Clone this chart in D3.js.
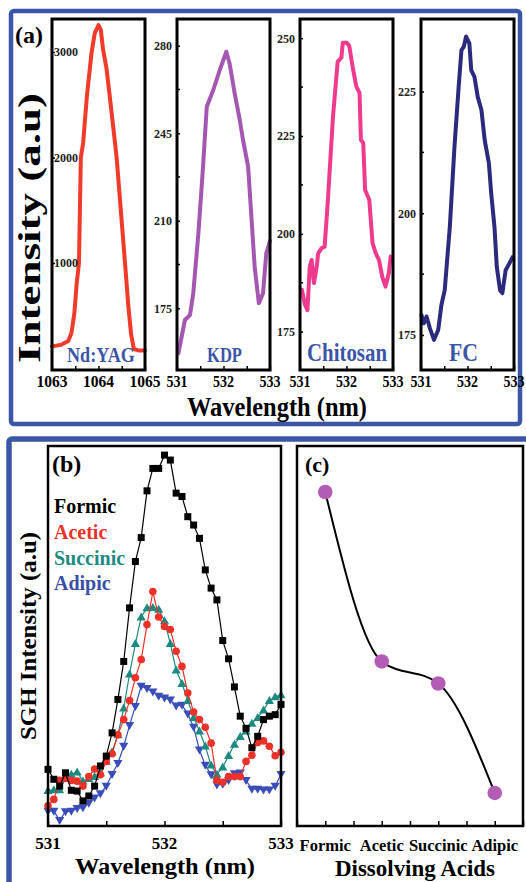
<!DOCTYPE html>
<meta charset="utf-8">
<style>

body {
  margin: 0;
  background: #fff;
}

text {
  font-family: "Liberation Serif", "Times New Roman", serif;
  font-weight: bold;
}

</style>
<body>
<script src="https://d3js.org/d3.v7.min.js" charset="utf-8"></script>
<script>

// ---- (a) spectra of the four samples
var ndyagWl  = [1063.00, 1063.20, 1063.35, 1063.42, 1063.48, 1063.53, 1063.58, 1063.62, 1063.67, 1063.75, 1063.85,
                1063.92, 1064.00, 1064.05, 1064.10, 1064.17, 1064.25, 1064.39, 1064.48, 1064.57, 1064.64, 1064.70,
                1064.76, 1064.86, 1065.00];
var ndyagInt = [210, 225, 260, 340, 520, 800, 1000, 2000, 2140, 2580, 2990,
                3180, 3255, 3210, 3020, 2850, 2550, 2000, 1500, 1000, 600, 330,
                185, 172, 172];

var kdpWl  = [531.03, 531.10, 531.17, 531.28, 531.35, 531.46, 531.56, 531.64, 531.78, 531.92, 532.06,
              532.13, 532.24, 532.35, 532.42, 532.53, 532.60, 532.67, 532.76, 532.85, 532.92, 533.00];
var kdpInt = [157, 163.6, 170.3, 172.3, 181, 205, 231.6, 255.6, 262.3, 270.3, 277.6,
              273, 261, 250.3, 242.3, 231.6, 211.6, 191.6, 177, 181, 197, 202];

var chitWl  = [531.04, 531.11, 531.16, 531.21, 531.25, 531.30, 531.36, 531.39, 531.46, 531.53, 531.60,
               531.71, 531.81, 531.89, 531.92, 532.01, 532.06, 532.13, 532.21, 532.28, 532.31, 532.36,
               532.40, 532.49, 532.56, 532.63, 532.70, 532.77, 532.84, 532.91, 532.95];
var chitInt = [185.7, 181.8, 180.5, 191.6, 193.3, 187.4, 191.6, 195, 196.3, 196.7, 208.7,
               230, 244, 245, 248.8, 248.8, 248, 242.8, 237.7, 236, 224, 223.2,
               211.2, 208.7, 197.6, 195, 193.3, 189, 186.5, 190, 194.2];

var fcWl  = [531.01, 531.06, 531.12, 531.19, 531.28, 531.37, 531.44, 531.51, 531.62, 531.72, 531.81,
             531.87, 531.92, 531.97, 532.04, 532.08, 532.15, 532.22, 532.30, 532.37, 532.46, 532.51,
             532.58, 532.63, 532.70, 532.75, 532.82, 532.90, 532.97];
var fcInt = [179.1, 177.4, 178.8, 176.4, 174, 176, 181.2, 184.2, 197.2, 213.7, 226,
             233.5, 234.2, 236.3, 234.9, 229.4, 228, 223.9, 221.2, 215, 210.3, 204.1,
             197.2, 189, 184.2, 183.6, 188.3, 189.7, 191];

var sampleNames  = ["Nd:YAG", "KDP", "Chitosan", "FC"];
var sampleColors = ["#f03a2a", "#a357b1", "#ee3b8e", "#2b2a7c"];
var sampleYTicks = [[1000, 2000, 3000], [175, 210, 245, 280], [175, 200, 225, 250], [175, 200, 225]];
var sampleYMinor = [[], [192.5, 227.5, 262.5], [187.5, 212.5, 237.5], [187.5, 212.5]];
var sampleXTicks = [[1063, 1064, 1065], [531, 532, 533], [531, 532, 533], [531, 532, 533]];
var sampleYDomains = [[-14, 3313], [150.3, 290.7], [165.2, 254.9], [167.8, 239.9]];

// ---- (b) SGH spectra for the dissolving acids
var acidWl = [531.00, 531.05, 531.10, 531.15, 531.20, 531.25, 531.30, 531.35, 531.40, 531.45,
              531.50, 531.55, 531.60, 531.65, 531.70, 531.75, 531.80, 531.85, 531.90, 531.95,
              532.00, 532.05, 532.10, 532.15, 532.20, 532.25, 532.30, 532.35, 532.40, 532.45,
              532.50, 532.55, 532.60, 532.65, 532.70, 532.75, 532.80, 532.85, 532.90, 532.95, 533.00];
var formic = [14.9, 12.3, 10.5, 14.0, 9.4, 9.2, 6.6, 7.9, 10.5, 15.8,
              18.4, 24.5, 33.3, 43.3, 57.4, 69.6, 75.9, 88.2, 94.1, 94.1,
              97.6, 96.3, 87.6, 86.7, 81.4, 79.2, 75.7, 67.4, 62.6, 59.5,
              48.8, 44.0, 36.6, 28.9, 25.7, 20.6, 23.6, 28.0, 28.9, 29.3, 32.0];
var acetic = [5.3, 7, 12, 12.5, 12, 11.8, 10.5, 13, 15, 13.5,
              17, 19, 24, 28, 33, 39, 43.8, 53, 61.7, 55,
              52.5, 51.7, 46, 42, 35, 30, 28, 26, 21.8, 12,
              11.5, 13, 13, 13, 17, 18.6, 22, 22.4, 21, 18.5, 19.4];
var succinic = [9.3, 9.5, 9.5, 12.5, 13.6, 14.2, 11.8, 12.5, 13, 14,
                17, 19.5, 24, 31, 40, 48, 55, 57.4, 57.5, 57,
                54, 48, 41, 37.5, 33, 28.5, 25, 21, 16, 13.6,
                15.5, 18.5, 21.5, 23.5, 25, 27, 28.5, 30.5, 33, 34, 34.5];
var adipic = [3.9, 3.9, 1.5, 3.8, 3.9, 4.6, 4.8, 6, 7.4, 8.5,
              10.5, 13.6, 16.5, 21, 26.5, 31.5, 36.8, 36.2, 35.3, 34.2,
              33.7, 33.2, 31.6, 31.8, 29.5, 26, 20, 16, 13.5, 10.8,
              11, 12, 13.8, 14, 12, 9.7, 9.7, 9.5, 9.5, 10.5, 13.6];

var acidNames  = ["Formic", "Acetic", "Succinic", "Adipic"];
var acidColors = ["#000000", "#ec3228", "#1d8a82", "#3a4db8"];
var acidLegendColors = ["#000000", "#ec3228", "#1d8a82", "#3a4fa8"];

// ---- (c) peak intensity per acid
var peakValues = [87.9, 43.3, 37.5, 8.7];

var blue = "#3b56a6";

var svg = d3.select("body").append("svg")
    .attr("width", 526)
    .attr("height", 882);

// text that can be squeezed or stretched to the width it has in the picture
function addText(parent, x, y, str, size, len, anchor, fill, rotate) {
  var t = parent.append("text")
      .attr("transform", "translate(" + x + "," + y + ")" + (rotate ? " rotate(-90)" : ""))
      .attr("font-size", size)
      .attr("fill", fill || "#000")
      .text(str);
  if (len) {
    t.attr("textLength", len).attr("lengthAdjust", "spacingAndGlyphs")
     .attr("x", anchor == "middle" ? -len / 2 : anchor == "end" ? -len : 0);
  } else {
    t.attr("text-anchor", anchor || "start");
  }
  return t;
}

// outer blue boxes
svg.append("rect")
    .attr("x", 11).attr("y", 11).attr("width", 509).attr("height", 413).attr("rx", 3)
    .attr("fill", "none").attr("stroke", blue).attr("stroke-width", 4.5);
svg.append("rect")
    .attr("x", 9).attr("y", 439).attr("width", 540).attr("height", 470).attr("rx", 3)
    .attr("fill", "none").attr("stroke", blue).attr("stroke-width", 5.5);

// =================== (a)
var aLefts = [52, 177, 300, 421],
    aWidth = 93,
    aTop = 19,
    aBottom = 370;

var sampleData = [
  d3.zip(ndyagWl, ndyagInt),
  d3.zip(kdpWl, kdpInt),
  d3.zip(chitWl, chitInt),
  d3.zip(fcWl, fcInt)
];

var nameStyle = [
  {size: 20, len: 68, x: 67, y: 362},
  {size: 21, len: 35, x: 207, y: 362},
  {size: 25, len: 80, x: 307, y: 361},
  {size: 25, len: 29, x: 449, y: 361}
];

sampleData.forEach(function(data, i) {
  var left = aLefts[i];
  var xd = sampleXTicks[i];
  var x = d3.scaleLinear().domain([xd[0], xd[2]]).range([left, left + aWidth]);
  var y = d3.scaleLinear().domain(sampleYDomains[i]).range([aBottom, aTop]);
  var g = svg.append("g");

  g.append("path")
      .datum(data)
      .attr("fill", "none")
      .attr("stroke", sampleColors[i])
      .attr("stroke-width", 4)
      .attr("stroke-linejoin", "round")
      .attr("stroke-linecap", "round")
      .attr("d", d3.line().x(function(d) { return x(d[0]); }).y(function(d) { return y(d[1]); }));

  // x ticks, inward, labels only on whole numbers
  var xAxis = g.append("g")
      .attr("transform", "translate(0," + aBottom + ")")
      .call(d3.axisBottom(x)
        .tickValues([xd[0], xd[0] + 0.5, xd[1], xd[1] + 0.5, xd[2]])
        .tickSize(-4)
        .tickFormat(""));
  xAxis.select(".domain").remove();
  xAxis.selectAll("line").attr("stroke-width", 1.5);

  xd.forEach(function(v) {
    var s = String(v);
    addText(g, x(v), 387, s, 16, s.length == 4 ? 31 : 21, "middle");
  });

  // y ticks
  var yAxis = g.append("g")
      .attr("transform", "translate(" + left + ",0)")
      .call(i == 0
        ? d3.axisRight(y).tickValues(sampleYTicks[i]).tickSize(3).tickPadding(-1).tickFormat(d3.format("d"))
        : d3.axisLeft(y).tickValues(sampleYTicks[i]).tickSize(-3).tickPadding(5).tickFormat(d3.format("d")));
  yAxis.select(".domain").remove();
  yAxis.selectAll("line").attr("stroke-width", 1.5);
  yAxis.selectAll("text")
      .attr("font-size", 12)
      .attr("fill", "#222");
  yAxis.attr("font-family", null).attr("font-size", null);

  g.selectAll(".minor")
      .data(sampleYMinor[i])
    .enter().append("line")
      .attr("x1", left).attr("x2", left + 3)
      .attr("y1", function(d) { return y(d); })
      .attr("y2", function(d) { return y(d); })
      .attr("stroke", "#000").attr("stroke-width", 1.5);

  g.append("rect")
      .attr("x", left).attr("y", aTop)
      .attr("width", aWidth).attr("height", aBottom - aTop)
      .attr("fill", "none").attr("stroke", "#000").attr("stroke-width", 3);

  var ns = nameStyle[i];
  addText(g, ns.x, ns.y, sampleNames[i], ns.size, ns.len, "start", blue);
});

addText(svg, 15, 43, "(a)", 24);
addText(svg, 40, 228, "Intensity (a.u)", 31, 270, "middle", "#000", true);
addText(svg, 277, 416, "Wavelength (nm)", 28, 180, "middle");

// =================== (b)
var bLeft = 48, bRight = 281, bTop = 446, bBottom = 826;

var xb = d3.scaleLinear().domain([531, 533]).range([bLeft, bRight]);
var yb = d3.scaleLinear().domain([0, 100]).range([bBottom, bTop]);

var acidSeries = [formic, acetic, succinic, adipic];
var drawOrder = [3, 2, 1, 0];

var lineB = d3.line()
    .x(function(d) { return xb(d[0]); })
    .y(function(d) { return yb(d[1]); });

drawOrder.forEach(function(k) {
  var data = d3.zip(acidWl, acidSeries[k]);
  var g = svg.append("g");
  g.append("path")
      .datum(data)
      .attr("fill", "none")
      .attr("stroke", acidColors[k])
      .attr("stroke-width", 1.2)
      .attr("d", lineB);

  var marks = g.selectAll(".m")
      .data(data)
    .enter();

  if (k == 0) {
    marks.append("rect")
        .attr("x", function(d) { return xb(d[0]) - 3.5; })
        .attr("y", function(d) { return yb(d[1]) - 3.5; })
        .attr("width", 7).attr("height", 7)
        .attr("fill", acidColors[k]);
  } else if (k == 1) {
    marks.append("circle")
        .attr("cx", function(d) { return xb(d[0]); })
        .attr("cy", function(d) { return yb(d[1]); })
        .attr("r", 3.8)
        .attr("fill", acidColors[k]);
  } else {
    var tri = k == 2 ? "M0,-4.6L4.6,3.4L-4.6,3.4Z" : "M0,4.6L4.6,-3.4L-4.6,-3.4Z";
    marks.append("path")
        .attr("transform", function(d) { return "translate(" + xb(d[0]) + "," + yb(d[1]) + ")"; })
        .attr("d", tri)
        .attr("fill", acidColors[k]);
  }
});

var bAxis = svg.append("g")
    .attr("transform", "translate(0," + bBottom + ")")
    .call(d3.axisBottom(xb).tickValues([531, 531.5, 532, 532.5, 533]).tickSize(-5).tickFormat(""));
bAxis.select(".domain").remove();
bAxis.selectAll("line").attr("stroke-width", 1.5);
[531, 532, 533].forEach(function(v) {
  addText(svg, xb(v), 849, String(v), 17, null, "middle");
});

svg.append("rect")
    .attr("x", bLeft).attr("y", bTop)
    .attr("width", bRight - bLeft).attr("height", bBottom - bTop)
    .attr("fill", "none").attr("stroke", "#000").attr("stroke-width", 2.5);

addText(svg, 52, 472, "(b)", 24);
acidNames.forEach(function(n, k) {
  addText(svg, 54, [513, 539, 565, 590][k], n, 20, null, "start", acidLegendColors[k]);
});
addText(svg, 36, 636, "SGH Intensity (a.u)", 24, 208, "middle", "#000", true);
addText(svg, 165, 874, "Wavelength (nm)", 23, 180, "middle");

// =================== (c)
var cLeft = 297, cRight = 523, cTop = 446, cBottom = 826;

var xc = d3.scaleLinear().domain([0.5, 4.5]).range([cLeft, cRight]);
var yc = d3.scaleLinear().domain([0, 100]).range([cBottom, cTop]);

var peaks = peakValues.map(function(v, i) { return [i + 1, v]; });

svg.append("path")
    .datum(peaks)
    .attr("fill", "none")
    .attr("stroke", "#000")
    .attr("stroke-width", 2)
    .attr("d", d3.line()
      .curve(d3.curveMonotoneX)
      .x(function(d) { return xc(d[0]); })
      .y(function(d) { return yc(d[1]); }));

svg.selectAll(".peak")
    .data(peaks)
  .enter().append("circle")
    .attr("cx", function(d) { return xc(d[0]); })
    .attr("cy", function(d) { return yc(d[1]); })
    .attr("r", 7.3)
    .attr("fill", "#b35cb6");

var cAxis = svg.append("g")
    .attr("transform", "translate(0," + cBottom + ")")
    .call(d3.axisBottom(xc).tickValues([0.5, 1, 1.5, 2, 2.5, 3, 3.5, 4, 4.5]).tickSize(-5).tickFormat(""));
cAxis.select(".domain").remove();
cAxis.selectAll("line").attr("stroke-width", 1.5);
acidNames.forEach(function(n, i) {
  addText(svg, xc(i + 1), 851, n, 16.5, null, "middle");
});

svg.append("rect")
    .attr("x", cLeft).attr("y", cTop)
    .attr("width", cRight - cLeft).attr("height", cBottom - cTop)
    .attr("fill", "none").attr("stroke", "#000").attr("stroke-width", 2.5);

addText(svg, 305, 472, "(c)", 22);
addText(svg, 415, 876, "Dissolving Acids", 23, 160, "middle");

</script>
